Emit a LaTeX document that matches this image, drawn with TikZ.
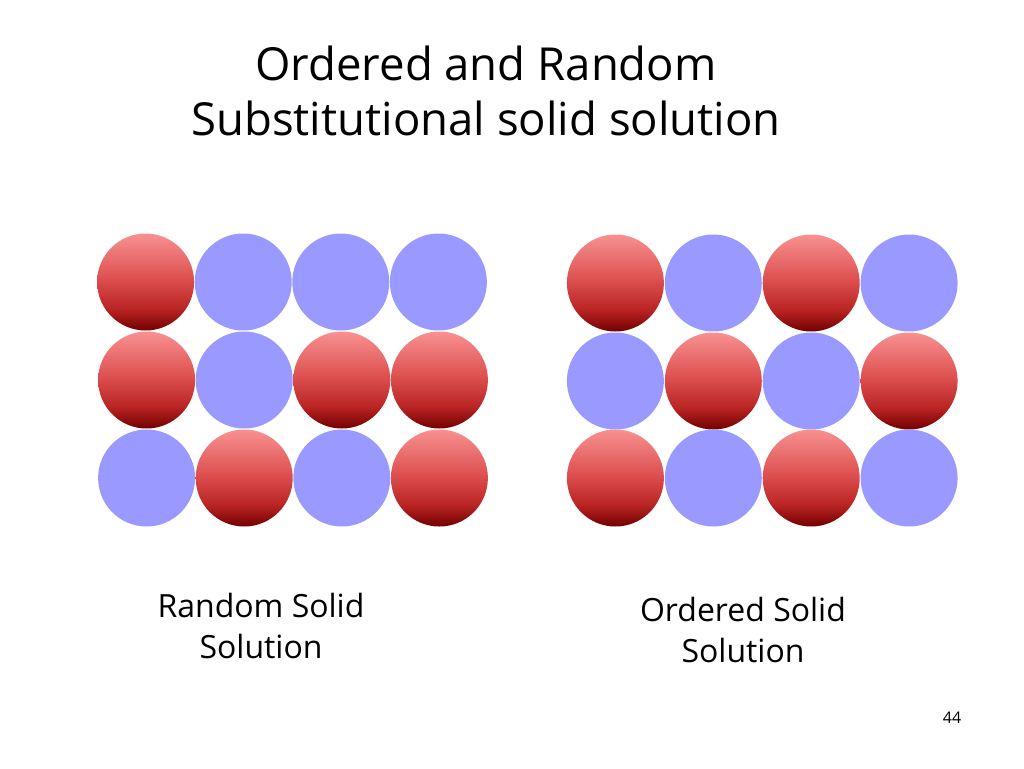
\documentclass[tikz,border=0pt]{standalone}
\usepackage{fontspec}
\setmainfont{Open Sans}
\definecolor{atomblue}{RGB}{153,153,255}
\definecolor{atomlight}{RGB}{248,145,145}
\definecolor{atommid}{RGB}{222,80,80}
\definecolor{atomdeep}{RGB}{185,35,35}
\definecolor{atomdark}{RGB}{115,0,0}
\pgfdeclareverticalshading{redball}{100bp}{color(0bp)=(atomdark); color(25bp)=(atomdark);
  color(36bp)=(atomdeep); color(52bp)=(atommid); color(75bp)=(atomlight); color(100bp)=(atomlight)}
\tikzset{
  atom/.style={circle,inner sep=0pt,minimum size=97pt},
  redatom/.style={atom,shading=redball},
  blueatom/.style={atom,fill=atomblue},
}

\begin{document}
\begin{tikzpicture}[x=1pt,y=-1pt]
        \useasboundingbox (0,0) rectangle (1024,768);
        % title
        \node[align=center,font=\fontsize{45.5}{55}\selectfont] (title) at (486,91)
        {Ordered and Random\\Substitutional solid solution};

        % random solid solution
        \foreach \kind [count=\i] in {red,blue,blue,blue}
            \node[\kind atom] (ra\i) at (48+97.6*\i,282) {};
        \foreach \kind [count=\i] in {red,blue,red,red}
            \node[\kind atom] (rb\i) at (49+97.6*\i,380) {};
        \foreach \kind [count=\i] in {blue,red,blue,red}
            \node[\kind atom] (rc\i) at (49+97.6*\i,478) {};

        % ordered solid solution
        \foreach \kind [count=\i] in {red,blue,red,blue}
            \node[\kind atom] (oa\i) at (517.5+97.9*\i,283) {};
        \foreach \kind [count=\i] in {blue,red,blue,red}
            \node[\kind atom] (ob\i) at (517.5+97.9*\i,381) {};
        \foreach \kind [count=\i] in {red,blue,red,blue}
            \node[\kind atom] (oc\i) at (517.5+97.9*\i,478) {};

        % labels
        \node[align=center,font=\fontsize{32}{41}\selectfont] (rlabel) at (261,626)
        {Random Solid\\Solution};
        \node[align=center,font=\fontsize{32}{41}\selectfont] (olabel) at (743,630)
        {Ordered Solid\\Solution};
        \node[font=\fontsize{16}{18}\selectfont] (page) at (952,718) {44};
\end{tikzpicture}
\end{document}
